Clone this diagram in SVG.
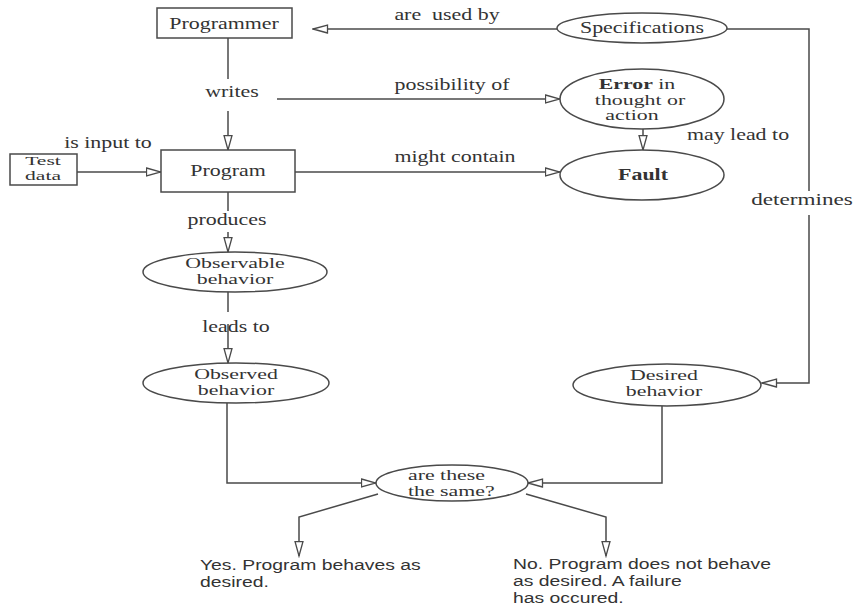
<svg xmlns="http://www.w3.org/2000/svg" width="861" height="605" viewBox="0 0 861 605">
  <style>
    .bg { fill: #ffffff; }
    .box { fill: #ffffff; stroke: #4a4a4a; stroke-width: 1.5; }
    .ell { fill: #ffffff; stroke: #4a4a4a; stroke-width: 1.5; }
    .wire { fill: none; stroke: #4a4a4a; stroke-width: 1.5; }
    .s { font-family: "Liberation Serif", "Times New Roman", serif; font-size: 16px; fill: #333333; text-anchor: middle; }
    .m { font-family: "Liberation Serif", "Times New Roman", serif; font-size: 14px; fill: #333333; text-anchor: middle; }
    .ml { font-family: "Liberation Serif", "Times New Roman", serif; font-size: 14px; fill: #333333; text-anchor: start; }
    .b { font-weight: bold; }
    .ans { font-family: "Liberation Sans", Arial, sans-serif; font-size: 15px; fill: #333333; }
  </style>
  <defs>
    <marker id="ah" markerWidth="17" markerHeight="11" refX="15.5" refY="5" orient="auto" markerUnits="userSpaceOnUse">
      <path d="M1,1 L15.5,5 L1,9 Z" fill="#ffffff" stroke="#4a4a4a" stroke-width="1.3"/>
    </marker>
  </defs>

  <rect class="bg" x="0" y="0" width="861" height="605"/>

  <!-- connectors -->
  <g id="connectors">
    <!-- Specifications -> Programmer -->
    <path class="wire" d="M557,29 L313,29" marker-end="url(#ah)"/>
    <!-- Programmer -> Program (writes) -->
    <path class="wire" d="M228,38 L228,79"/>
    <path class="wire" d="M228,111 L228,150" marker-end="url(#ah)"/>
    <!-- writes -> Error -->
    <path class="wire" d="M277,99 L560,99" marker-end="url(#ah)"/>
    <!-- Test data -> Program -->
    <path class="wire" d="M77,172 L161,172" marker-end="url(#ah)"/>
    <!-- Program -> Fault -->
    <path class="wire" d="M295,172 L560,172" marker-end="url(#ah)"/>
    <!-- Error -> Fault -->
    <path class="wire" d="M643,129 L643,150" marker-end="url(#ah)"/>
    <!-- Specifications -> Desired behavior (determines) -->
    <path class="wire" d="M727,29 L809,29 L809,191"/>
    <path class="wire" d="M809,215 L809,383 L762,383" marker-end="url(#ah)"/>
    <!-- Program -> Observable behavior -->
    <path class="wire" d="M228,192 L228,211"/>
    <path class="wire" d="M228,232 L228,252" marker-end="url(#ah)"/>
    <!-- Observable -> Observed -->
    <path class="wire" d="M228,281 L228,312"/>
    <path class="wire" d="M228,324 L228,363" marker-end="url(#ah)"/>
    <!-- Observed -> comparison -->
    <path class="wire" d="M227,403 L227,483 L376,483" marker-end="url(#ah)"/>
    <!-- Desired -> comparison -->
    <path class="wire" d="M662,406 L662,483 L528,483" marker-end="url(#ah)"/>
    <!-- comparison outcomes -->
    <path class="wire" d="M378,494 L299,517 L299,556" marker-end="url(#ah)"/>
    <path class="wire" d="M526,494 L606,517 L606,556" marker-end="url(#ah)"/>
  </g>

  <!-- connector labels -->
  <g id="labels">
    <text class="s" transform="translate(447,20) scale(1.37,1)" xml:space="preserve">are  used by</text>
    <text class="s" transform="translate(232,97) scale(1.37,1)">writes</text>
    <text class="s" transform="translate(452,90) scale(1.37,1)">possibility of</text>
    <text class="s" transform="translate(108,148) scale(1.37,1)">is input to</text>
    <text class="s" transform="translate(455,162) scale(1.37,1)">might contain</text>
    <text class="s" transform="translate(738,140) scale(1.37,1)">may lead to</text>
    <text class="s" transform="translate(802,205) scale(1.45,1)">determines</text>
    <text class="s" transform="translate(227,225) scale(1.37,1)">produces</text>
    <text class="s" transform="translate(236,332) scale(1.37,1)">leads to</text>
  </g>

  <g id="programmer">
    <rect class="box" x="157" y="8" width="135" height="30"/>
    <text class="s" transform="translate(224,29) scale(1.37,1)">Programmer</text>
  </g>

  <g id="specifications">
    <ellipse class="ell" cx="642" cy="28" rx="85" ry="15"/>
    <text class="s" transform="translate(642,33) scale(1.37,1)">Specifications</text>
  </g>

  <g id="error">
    <ellipse class="ell" cx="642" cy="99" rx="82" ry="30"/>
    <text class="m" transform="translate(637,89) scale(1.56,1)"><tspan class="b">Error</tspan> in</text>
    <text class="m" transform="translate(640,104.5) scale(1.56,1)">thought or</text>
    <text class="m" transform="translate(632,120) scale(1.56,1)">action</text>
  </g>

  <g id="fault">
    <ellipse class="ell" cx="642" cy="175" rx="82" ry="25"/>
    <text class="s b" transform="translate(643,180) scale(1.37,1)">Fault</text>
  </g>

  <g id="test-data">
    <rect class="box" x="10" y="154" width="67" height="31"/>
    <text class="m" transform="translate(43,165) scale(1.6,1)" style="font-size:13.5px">Test</text>
    <text class="m" transform="translate(43,180) scale(1.6,1)" style="font-size:13.5px">data</text>
  </g>

  <g id="program">
    <rect class="box" x="161" y="150" width="134" height="42"/>
    <text class="s" transform="translate(228,176) scale(1.37,1)">Program</text>
  </g>

  <g id="observable-behavior">
    <ellipse class="ell" cx="235" cy="272" rx="92" ry="20"/>
    <text class="m" transform="translate(235,268) scale(1.56,1)">Observable</text>
    <text class="m" transform="translate(235,283.5) scale(1.56,1)">behavior</text>
  </g>

  <g id="observed-behavior">
    <ellipse class="ell" cx="236" cy="383" rx="93" ry="20"/>
    <text class="m" transform="translate(236,379) scale(1.56,1)">Observed</text>
    <text class="m" transform="translate(236,394.5) scale(1.56,1)">behavior</text>
  </g>

  <g id="desired-behavior">
    <ellipse class="ell" cx="667" cy="385" rx="94" ry="21"/>
    <text class="m" transform="translate(664,380) scale(1.56,1)">Desired</text>
    <text class="m" transform="translate(664,395.5) scale(1.56,1)">behavior</text>
  </g>

  <g id="same-check">
    <ellipse class="ell" cx="452" cy="483" rx="76" ry="18"/>
    <text class="ml" transform="translate(408,480) scale(1.56,1)">are these</text>
    <text class="ml" transform="translate(408,495.5) scale(1.56,1)">the same?</text>
  </g>

  <g id="outcome-yes">
    <text class="ans" transform="translate(200,570) scale(1.29,1)">Yes. Program behaves as</text>
    <text class="ans" transform="translate(200,587) scale(1.29,1)">desired.</text>
  </g>

  <g id="outcome-no">
    <text class="ans" transform="translate(513,569) scale(1.29,1)">No. Program does not behave</text>
    <text class="ans" transform="translate(513,586) scale(1.29,1)">as desired. A failure</text>
    <text class="ans" transform="translate(513,603) scale(1.29,1)">has occured.</text>
  </g>
</svg>
